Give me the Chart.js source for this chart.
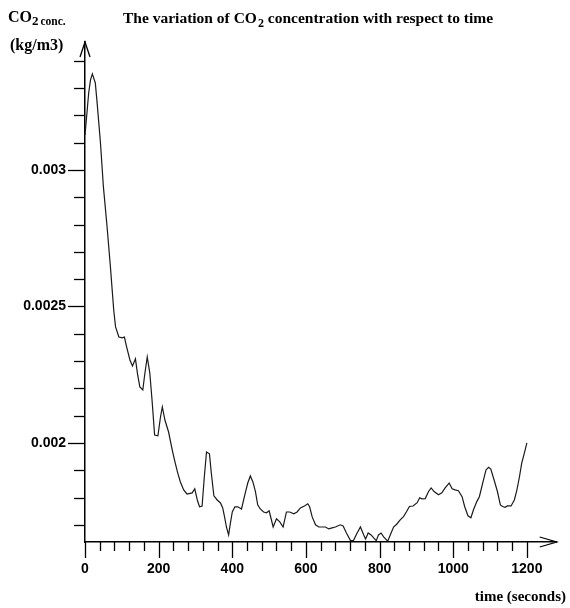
<!DOCTYPE html>
<html>
<head>
<meta charset="utf-8">
<script src="https://cdn.jsdelivr.net/npm/chart.js@4.4.1/dist/chart.umd.min.js"></script>
<style>
  html, body { margin: 0; padding: 0; background: #fff; }
  canvas { display: block; }
</style>
</head>
<body>
<canvas id="co2Chart" width="570" height="608"></canvas>
<script>
// Sample times (s) and measured CO2 concentration (kg/m3)
const timeSeconds = [
  0, 6, 10, 15, 20, 28, 33, 42, 50, 60,
  69, 78, 83, 92, 101, 107, 113, 122, 129, 137,
  143, 149, 157, 162, 169, 176, 182, 189, 198, 205,
  210, 217, 227, 237, 243, 251, 259, 268, 277, 291,
  298, 305, 311, 318, 324, 330, 338, 343, 350, 359,
  368, 374, 379, 384, 390, 395, 400, 407, 415, 425,
  434, 442, 449, 456, 463, 469, 476, 485, 493, 500,
  505, 511, 520, 529, 538, 547, 556, 567, 576, 585,
  596, 605, 610, 617, 626, 635, 644, 653, 662, 671,
  680, 693, 701, 710, 721, 729, 739, 748, 757, 762,
  769, 777, 784, 791, 797, 804, 811, 822, 829, 838,
  847, 856, 865, 873, 881, 891, 902, 909, 915, 924,
  933, 940, 948, 960, 969, 978, 989, 997, 1005, 1014,
  1024, 1031, 1040, 1048, 1055, 1064, 1071, 1081, 1089, 1096,
  1102, 1111, 1120, 1128, 1134, 1141, 1147, 1157, 1166, 1173,
  1180, 1186, 1193, 1200
];
const co2Conc = [
  0.003128, 0.003220, 0.003282, 0.003330, 0.003352, 0.003319, 0.003245, 0.003099, 0.002938, 0.002791,
  0.002645, 0.002487, 0.002425, 0.002388, 0.002385, 0.002388, 0.002352, 0.002304, 0.002282, 0.002308,
  0.002249, 0.002205, 0.002194, 0.002249, 0.002315, 0.002256, 0.002158, 0.002029, 0.002026, 0.002095,
  0.002132, 0.002084, 0.002040, 0.001974, 0.001938, 0.001894, 0.001857, 0.001828, 0.001813, 0.001817,
  0.001832, 0.001791, 0.001766, 0.001769, 0.001875, 0.001967, 0.001960, 0.001890, 0.001806, 0.001791,
  0.001780, 0.001762, 0.001729, 0.001692, 0.001663, 0.001707, 0.001747, 0.001766, 0.001766, 0.001758,
  0.001810, 0.001853, 0.001879, 0.001857, 0.001821, 0.001773, 0.001758, 0.001747, 0.001744, 0.001751,
  0.001725, 0.001692, 0.001722, 0.001711, 0.001692, 0.001747, 0.001747, 0.001740, 0.001747, 0.001762,
  0.001769, 0.001777, 0.001766, 0.001729, 0.001700, 0.001692, 0.001692, 0.001692, 0.001685, 0.001689,
  0.001692, 0.001700, 0.001696, 0.001670, 0.001642, 0.001642, 0.001670, 0.001692, 0.001663, 0.001648,
  0.001670, 0.001663, 0.001652, 0.001642, 0.001663, 0.001670, 0.001656, 0.001640, 0.001663, 0.001692,
  0.001703, 0.001718, 0.001730, 0.001748, 0.001767, 0.001769, 0.001781, 0.001799, 0.001795, 0.001796,
  0.001822, 0.001835, 0.001822, 0.001810, 0.001817, 0.001835, 0.001853, 0.001832, 0.001828, 0.001825,
  0.001803, 0.001767, 0.001733, 0.001726, 0.001755, 0.001785, 0.001803, 0.001858, 0.001901, 0.001911,
  0.001904, 0.001864, 0.001822, 0.001773, 0.001767, 0.001764, 0.001769, 0.001769, 0.001791, 0.001828,
  0.001877, 0.001926, 0.001962, 0.002000
];

// Axis ticks: minor marks every 40 s / 0.0001 kg/m3, labels on the major ones
const xTickValues = [];
for (let t = 0; t <= 1200; t += 40) xTickValues.push(t);
const xLabelTicks = [0, 200, 400, 600, 800, 1000, 1200];
const yTickValues = [];
for (let k = 17; k <= 34; k++) yTickValues.push(k / 10000);
const yLabelTicks = [0.002, 0.0025, 0.003];
const yLabelText = ['0.002', '0.0025', '0.003'];

const isYLabel = v => yLabelTicks.findIndex(l => Math.abs(l - v) < 1e-9);

const axisDecor = {
  id: 'axisDecor',
  afterDraw(chart) {
    const { ctx, chartArea: a, scales: { x, y } } = chart;
    ctx.save();
    ctx.strokeStyle = '#000';
    ctx.lineWidth = 1.3;
    const line = (x1, y1, x2, y2) => {
      ctx.beginPath(); ctx.moveTo(x1, y1); ctx.lineTo(x2, y2); ctx.stroke();
    };
    // tick marks
    x.ticks.forEach(t => {
      const px = Math.round(x.getPixelForValue(t.value)) + 0.5;
      const len = xLabelTicks.includes(t.value) ? 16 : 9;
      line(px, a.bottom, px, a.bottom + len);
    });
    y.ticks.forEach(t => {
      const py = Math.round(y.getPixelForValue(t.value)) + 0.5;
      const len = isYLabel(t.value) >= 0 ? 17 : 11;
      line(a.left - len, py, a.left, py);
    });
    // open arrow heads at the ends of both axes
    ctx.beginPath();
    ctx.moveTo(a.left - 5, a.top + 15); ctx.lineTo(a.left, a.top); ctx.lineTo(a.left + 5, a.top + 15);
    ctx.stroke();
    ctx.beginPath();
    ctx.moveTo(a.right - 17, a.bottom - 5); ctx.lineTo(a.right, a.bottom); ctx.lineTo(a.right - 17, a.bottom + 5);
    ctx.stroke();

    // titles
    ctx.fillStyle = '#000';
    ctx.textBaseline = 'alphabetic';
    ctx.textAlign = 'left';
    const serif = '"Liberation Serif", "Times New Roman", serif';
    let cx = 123;
    ctx.font = 'bold 15.5px ' + serif;
    ctx.fillText('The variation of CO', cx, 23);
    cx += ctx.measureText('The variation of CO').width;
    ctx.font = 'bold 12px ' + serif;
    ctx.fillText('2', cx + 1, 27);
    cx += ctx.measureText('2').width + 1;
    ctx.font = 'bold 15.5px ' + serif;
    ctx.fillText(' concentration with respect to time', cx, 23);

    ctx.font = 'bold 16px ' + serif;
    ctx.fillText('CO', 8, 22);
    let yx = 8 + ctx.measureText('CO').width;
    ctx.font = 'bold 13px ' + serif;
    ctx.fillText('2', yx, 25);
    yx += ctx.measureText('2').width + 2;
    ctx.font = 'bold 11.5px ' + serif;
    ctx.fillText('conc.', yx, 25);

    ctx.font = 'bold 16px ' + serif;
    ctx.fillText('(kg/m3)', 10, 50);

    ctx.font = 'bold 15px ' + serif;
    ctx.textAlign = 'right';
    ctx.fillText('time (seconds)', 566, 601);
    ctx.restore();
  }
};

new Chart(document.getElementById('co2Chart'), {
  type: 'line',
  data: {
    datasets: [{
      label: 'CO2 concentration',
      data: timeSeconds.map((t, i) => ({ x: t, y: co2Conc[i] })),
      borderColor: '#1a1a1a',
      borderWidth: 1.2,
      pointRadius: 0,
      tension: 0,
      fill: false,
      clip: false
    }]
  },
  options: {
    responsive: false,
    animation: false,
    layout: { padding: { top: 42, right: 13.3, left: 0, bottom: 0 } },
    plugins: { legend: { display: false }, tooltip: { enabled: false }, title: { display: false } },
    scales: {
      x: {
        type: 'linear',
        min: 0,
        max: 1281,
        afterBuildTicks: s => { s.ticks = xTickValues.map(v => ({ value: v })); },
        afterFit: s => { s.height = 66; },
        grid: { display: false, drawTicks: true, tickLength: 16 },
        border: { display: true, color: '#000', width: 1.5 },
        ticks: {
          autoSkip: false,
          maxRotation: 0,
          padding: 3,
          color: '#000',
          font: { family: '"Liberation Sans", Arial, sans-serif', size: 14, weight: 'bold' },
          callback: v => (xLabelTicks.includes(v) ? String(v) : '')
        }
      },
      y: {
        type: 'linear',
        min: 0.001637,
        max: 0.003469,
        afterBuildTicks: s => { s.ticks = yTickValues.map(v => ({ value: v })); },
        afterFit: s => { s.width = 85; },
        grid: { display: false, drawTicks: true, tickLength: 17 },
        border: { display: true, color: '#000', width: 1.5 },
        ticks: {
          autoSkip: false,
          padding: 2,
          color: '#000',
          font: { family: '"Liberation Sans", Arial, sans-serif', size: 14, weight: 'bold' },
          callback: v => { const i = isYLabel(v); return i >= 0 ? yLabelText[i] : ''; }
        }
      }
    }
  },
  plugins: [axisDecor]
});
</script>
</body>
</html>
